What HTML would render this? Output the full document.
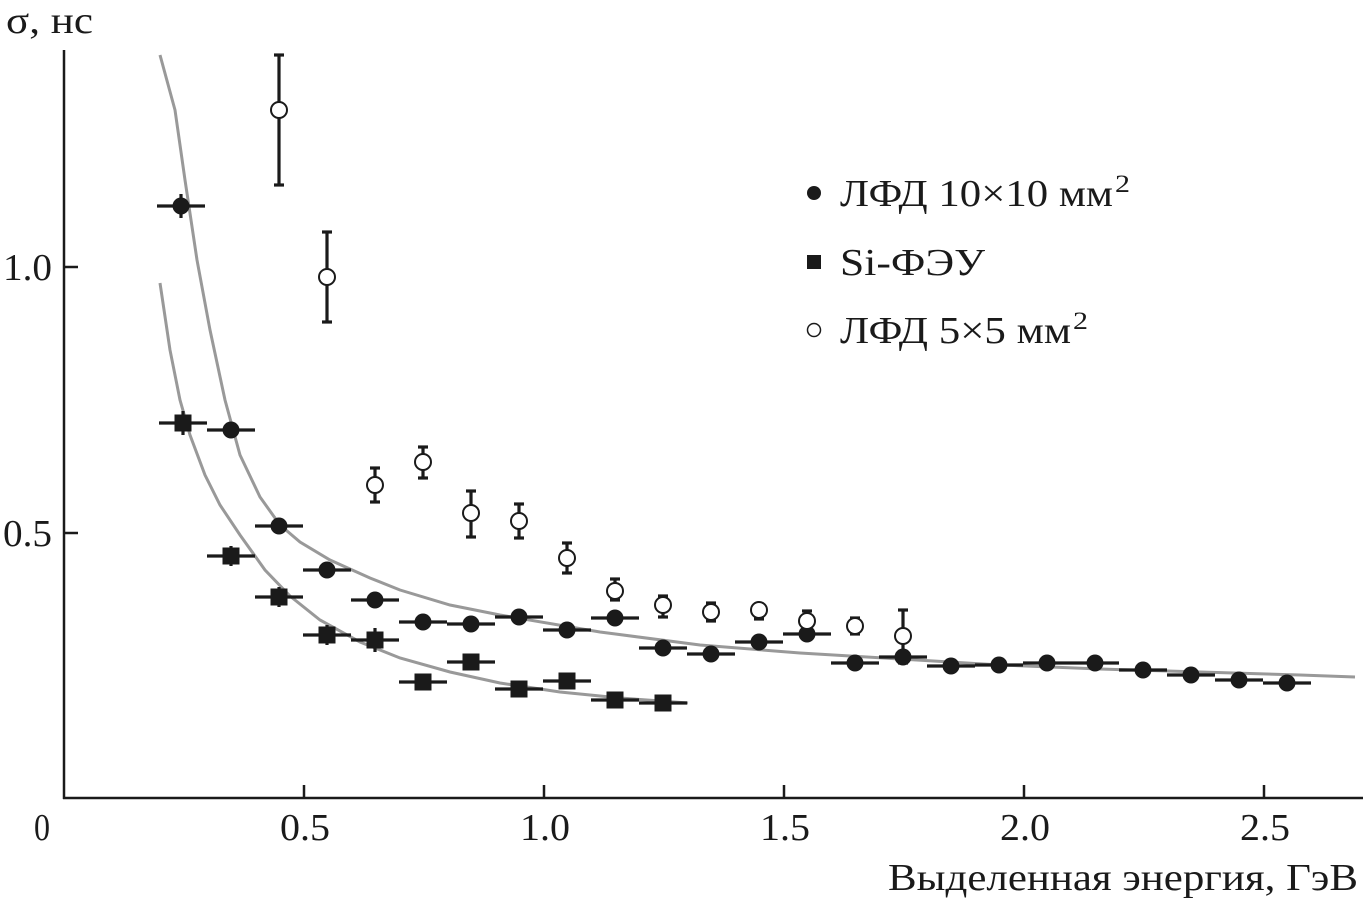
<!DOCTYPE html>
<html><head><meta charset="utf-8"><style>
html,body{margin:0;padding:0;background:#fff}
svg{display:block}
text{font-family:"Liberation Serif",serif;fill:#1a1a1a}
</style></head><body>
<svg id="s" width="1363" height="901" viewBox="0 0 1363 901" xmlns="http://www.w3.org/2000/svg">
<g stroke="#1a1a1a" stroke-width="2.5" fill="none">
<line x1="64" y1="50" x2="64" y2="799"/>
<line x1="63" y1="798" x2="1363" y2="798"/>
<line x1="64" y1="267" x2="78" y2="267"/>
<line x1="64" y1="533" x2="78" y2="533"/>
<line x1="304" y1="798" x2="304" y2="785"/>
<line x1="544" y1="798" x2="544" y2="785"/>
<line x1="784" y1="798" x2="784" y2="785"/>
<line x1="1024" y1="798" x2="1024" y2="785"/>
<line x1="1264" y1="798" x2="1264" y2="785"/>
</g>
<g stroke="#999" stroke-width="3" fill="none">
<polyline points="160,55 175,110 185,180 197,260 210,330 225,400 240,455 260,497 280,525 300,542 330,560 370,578 400,590 450,605 500,615 600,632 700,645 800,653 900,659 1000,665 1100,669 1200,672 1300,675 1355,677"/>
<polyline points="160,283 170,350 180,400 190,435 205,475 220,505 240,535 265,570 290,596 320,620 360,642 400,658 450,672 500,683 560,692 620,698 688,703"/>
</g>
<g id="m"></g>
<text x="6" y="33" font-size="38" textLength="87" lengthAdjust="spacingAndGlyphs">σ, нс</text>
<text x="3" y="280" font-size="38" textLength="49" lengthAdjust="spacingAndGlyphs">1.0</text>
<text x="3" y="546" font-size="38" textLength="49" lengthAdjust="spacingAndGlyphs">0.5</text>
<text x="34" y="840" font-size="38" textLength="16" lengthAdjust="spacingAndGlyphs">0</text>
<text x="280" y="840" font-size="38" textLength="50" lengthAdjust="spacingAndGlyphs">0.5</text>
<text x="520" y="840" font-size="38" textLength="50" lengthAdjust="spacingAndGlyphs">1.0</text>
<text x="760" y="840" font-size="38" textLength="50" lengthAdjust="spacingAndGlyphs">1.5</text>
<text x="1000" y="840" font-size="38" textLength="50" lengthAdjust="spacingAndGlyphs">2.0</text>
<text x="1240" y="840" font-size="38" textLength="50" lengthAdjust="spacingAndGlyphs">2.5</text>
<text x="888" y="890" font-size="38" textLength="470" lengthAdjust="spacingAndGlyphs">Выделенная энергия, ГэВ</text>
<circle cx="814" cy="193" r="7" fill="#1a1a1a"/>
<rect x="807" y="255" width="14" height="14" fill="#1a1a1a"/>
<circle cx="814" cy="330" r="6.5" fill="#fff" stroke="#1a1a1a" stroke-width="1.5"/>
<text x="840" y="206" font-size="38" textLength="273" lengthAdjust="spacingAndGlyphs">ЛФД 10×10 мм</text>
<text x="1115" y="192" font-size="25" textLength="15" lengthAdjust="spacingAndGlyphs">2</text>
<text x="840" y="275" font-size="38" textLength="145" lengthAdjust="spacingAndGlyphs">Si-ФЭУ</text>
<text x="840" y="343" font-size="38" textLength="231" lengthAdjust="spacingAndGlyphs">ЛФД 5×5 мм</text>
<text x="1073" y="329" font-size="25" textLength="15" lengthAdjust="spacingAndGlyphs">2</text>
</svg>
<script>
var g=document.getElementById('m'),h='';
var C=[[181,206,12],[231,430,8],[279,526,8],[327,570,6],[375,600,6],[423,622,6],[471,624,6],[519,617,6],[567,630,6],[615,618,6],[663,648,6],[711,654,6],[759,642,6],[807,634,6],[855,663,6],[903,657,8],[951,666,5],[999,665,5],[1047,663,5],[1095,663,5],[1143,670,5],[1191,675,5],[1239,680,5],[1287,683,5]];
var S=[[183,423,12],[231,556,10],[279,597,10],[327,635,10],[375,640,12],[423,682,6],[471,662,6],[519,689,6],[567,681,6],[615,700,6],[663,703,6]];
var O=[[279,110,55,185],[327,277,232,322],[375,485,468,502],[423,462,447,478],[471,513,491,537],[519,521,504,538],[567,558,543,573],[615,591,579,600],[663,605,596,617],[711,612,603,621],[759,610,604,619],[807,621,611,627],[855,626,618,634],[903,636,610,663]];
function L(a,b,c,d){h+='<line x1="'+a+'" y1="'+b+'" x2="'+c+'" y2="'+d+'" stroke="#1a1a1a" stroke-width="3.2"/>';}
C.forEach(function(p){L(p[0]-24,p[1],p[0]+24,p[1]);L(p[0],p[1]-p[2],p[0],p[1]+p[2]);h+='<circle cx="'+p[0]+'" cy="'+p[1]+'" r="8.5" fill="#1a1a1a"/>';});
S.forEach(function(p){L(p[0]-24,p[1],p[0]+24,p[1]);L(p[0],p[1]-p[2],p[0],p[1]+p[2]);h+='<rect x="'+(p[0]-8.5)+'" y="'+(p[1]-8.5)+'" width="17" height="17" fill="#1a1a1a"/>';});
O.forEach(function(p){L(p[0],p[2],p[0],p[3]);L(p[0]-5,p[2],p[0]+5,p[2]);L(p[0]-5,p[3],p[0]+5,p[3]);h+='<circle cx="'+p[0]+'" cy="'+p[1]+'" r="8" fill="#fff" stroke="#1a1a1a" stroke-width="2"/>';});
g.innerHTML=h;
</script>
</body></html>
